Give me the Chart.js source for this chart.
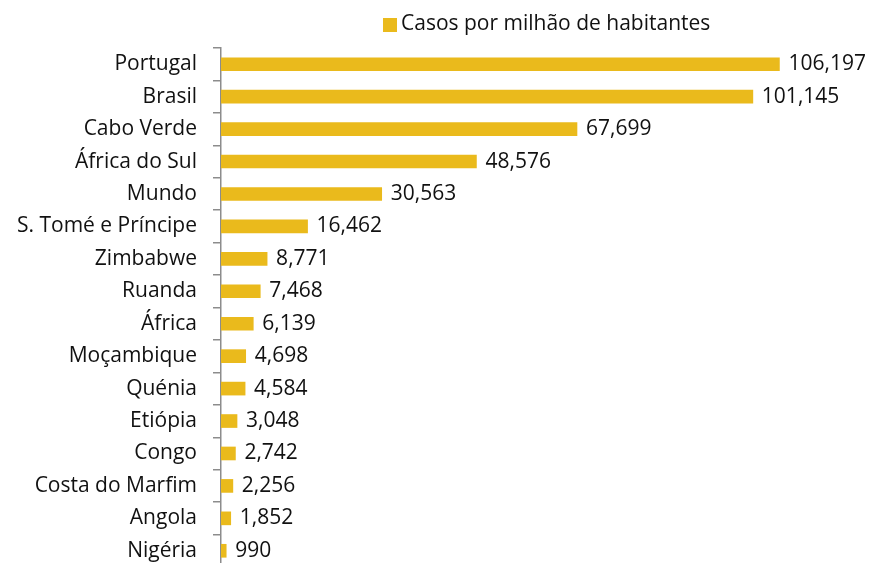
<!DOCTYPE html>
<html>
<head>
<meta charset="utf-8">
<script src="https://cdn.jsdelivr.net/npm/chart.js@4/dist/chart.umd.min.js"></script>
<style>
    html, body { margin: 0; padding: 0; background: #fff; overflow: hidden; }
    canvas { display: block; }
</style>
</head>
<body>
<canvas id="casesChart" width="870" height="580"></canvas>
<script>
const countries = ["Portugal", "Brasil", "Cabo Verde", "África do Sul", "Mundo", "S. Tomé e Príncipe",
    "Zimbabwe", "Ruanda", "África", "Moçambique", "Quénia", "Etiópia", "Congo", "Costa do Marfim",
    "Angola", "Nigéria"];
const casesPerMillion = [106197, 101145, 67699, 48576, 30563, 16462, 8771, 7468, 6139, 4698, 4584,
    3048, 2742, 2256, 1852, 990];
const seriesName = "Casos por milhão de habitantes";
const barColor = "#EABA1C";
const fontFamily = "'Open Sans', Lato, sans-serif";

// value labels to the right of each bar
const valueLabels = {
    id: "valueLabels",
    afterDatasetsDraw(chart) {
        const ctx = chart.ctx;
        const meta = chart.getDatasetMeta(0);
        ctx.save();
        ctx.font = "21px " + fontFamily;
        ctx.fillStyle = "#111";
        ctx.textAlign = "left";
        ctx.textBaseline = "middle";
        meta.data.forEach((bar, i) => {
            ctx.fillText(casesPerMillion[i].toLocaleString("en-US"), bar.x + 9, bar.y);
        });
        ctx.restore();
    }
};

// legend drawn above the plot, offset to the right like the original
const topLegend = {
    id: "topLegend",
    afterDraw(chart) {
        const ctx = chart.ctx;
        const ds = chart.data.datasets[0];
        ctx.save();
        ctx.fillStyle = ds.backgroundColor;
        ctx.fillRect(383, 18, 14, 14);
        ctx.font = "21px " + fontFamily;
        ctx.fillStyle = "#111";
        ctx.textAlign = "left";
        ctx.textBaseline = "middle";
        ctx.fillText(ds.label, 401, 24);
        ctx.restore();
    }
};

const ctx = document.getElementById("casesChart").getContext("2d");
new Chart(ctx, {
    type: "bar",
    data: {
        labels: countries,
        datasets: [{
            label: seriesName,
            data: casesPerMillion,
            backgroundColor: barColor,
            barThickness: 13
        }]
    },
    options: {
        indexAxis: "y",
        responsive: false,
        animation: false,
        layout: { padding: { top: 48, right: 18, bottom: 13, left: 0 } },
        plugins: {
            legend: { display: false },
            tooltip: { enabled: false }
        },
        scales: {
            x: {
                display: false,
                min: 0,
                max: 120000
            },
            y: {
                afterFit(scale) {
                    scale.width = 221;
                    scale.paddingTop = 0;
                    scale.paddingBottom = 0;
                },
                border: { display: true, color: "#8c8c8c", width: 1.5 },
                grid: {
                    display: true,
                    drawOnChartArea: false,
                    drawTicks: true,
                    tickLength: 8,
                    color: "#8c8c8c",
                    lineWidth: 1.5,
                    offset: true
                },
                ticks: {
                    padding: 16,
                    color: "#111",
                    font: { family: fontFamily, size: 21 }
                }
            }
        }
    },
    plugins: [valueLabels, topLegend]
});
</script>
</body>
</html>
